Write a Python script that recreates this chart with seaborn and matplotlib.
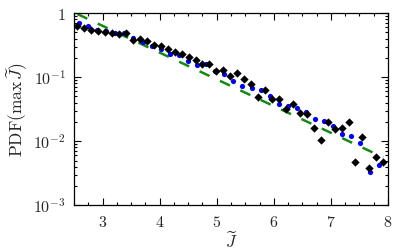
import numpy as np
import pandas as pd
import matplotlib
matplotlib.use("Agg")
import matplotlib.pyplot as plt
import seaborn as sns
from matplotlib.ticker import FixedLocator, FuncFormatter, LogLocator, MultipleLocator

# ---- data ----
black_x = [2.558, 2.680, 2.802, 2.923, 3.045, 3.167, 3.289, 3.411, 3.532, 3.654,
           3.776, 3.898, 4.020, 4.141, 4.263, 4.385, 4.507, 4.629, 4.750, 4.872,
           4.994, 5.116, 5.238, 5.359, 5.481, 5.603, 5.725, 5.847, 5.968, 6.090,
           6.212, 6.334, 6.456, 6.577, 6.699, 6.821, 6.943, 7.065, 7.186, 7.308,
           7.430, 7.552, 7.674, 7.795, 7.917]
black_y = [0.634, 0.577, 0.543, 0.530, 0.511, 0.496, 0.470, 0.482, 0.386, 0.389,
           0.370, 0.317, 0.306, 0.271, 0.244, 0.229, 0.208, 0.185, 0.158, 0.160,
           0.126, 0.129, 0.105, 0.115, 0.0934, 0.0780, 0.0494, 0.0629, 0.0450, 0.0450,
           0.0315, 0.0377, 0.0272, 0.0263, 0.0162, 0.0104, 0.0201, 0.0153, 0.0162, 0.0201,
           0.00479, 0.0115, 0.00378, 0.00573, 0.00479]

blue_x = [2.588, 2.747, 2.906, 3.065, 3.224, 3.383, 3.542, 3.701, 3.860, 4.019,
          4.178, 4.337, 4.496, 4.655, 4.814, 4.973, 5.132, 5.291, 5.450, 5.609,
          5.768, 5.927, 6.086, 6.245, 6.404, 6.563, 6.722, 6.881, 7.040, 7.199,
          7.358, 7.517, 7.676, 7.835]
blue_y = [0.711, 0.634, 0.543, 0.524, 0.496, 0.482, 0.415, 0.353, 0.311, 0.274,
          0.233, 0.221, 0.180, 0.154, 0.160, 0.123, 0.113, 0.0879, 0.0727, 0.0669,
          0.0641, 0.0507, 0.0387, 0.0354, 0.0326, 0.0291, 0.0222, 0.0206, 0.0173, 0.0130,
          0.0120, 0.00947, 0.00334, 0.00425]

green_x = [2.558, 7.917]
green_y = [0.968, 0.0056]

x_ticks = [3, 4, 5, 6, 7, 8]
y_ticks = [1e-3, 1e-2, 1e-1, 1]
y_tick_labels = [r"$10^{-3}$", r"$10^{-2}$", r"$10^{-1}$", r"$1$"]

# ---- style ----
sns.set_style("ticks")
plt.rcParams["mathtext.fontset"] = "cm"
plt.rcParams["font.family"] = ["DejaVu Serif"]

fig = plt.figure(figsize=(4.08, 2.52), dpi=100)
ax = fig.add_axes([0.1814, 0.1853, 0.951 - 0.1814, 0.948 - 0.1853])

df_b = pd.DataFrame({"x": black_x, "y": black_y})
df_u = pd.DataFrame({"x": blue_x, "y": blue_y})
df_g = pd.DataFrame({"x": green_x, "y": green_y})

sns.lineplot(data=df_g, x="x", y="y", ax=ax, color="#138a13", lw=1.8,
             sort=False, zorder=2)
gl = ax.lines[-1]
gl.set_linestyle((0, (4.4, 4.6)))
gl.set_dash_capstyle("butt")
sns.scatterplot(data=df_u, x="x", y="y", ax=ax, color="#0000ff", marker="o",
                s=14, linewidth=0, zorder=3)
sns.scatterplot(data=df_b, x="x", y="y", ax=ax, color="black", marker="D",
                s=18, linewidth=0, zorder=4)

ax.set_yscale("log")
ax.set_xlim(2.5, 8)
ax.set_ylim(1e-3, 1)

ax.xaxis.set_major_locator(FixedLocator(x_ticks))
ax.xaxis.set_minor_locator(MultipleLocator(0.25))
ax.xaxis.set_major_formatter(FuncFormatter(lambda v, p: r"$%d$" % round(v)))
ax.yaxis.set_major_locator(FixedLocator(y_ticks))
ax.yaxis.set_minor_locator(LogLocator(base=10, subs=np.arange(2, 10)))
lab = dict(zip(y_ticks, y_tick_labels))
ax.yaxis.set_major_formatter(FuncFormatter(
    lambda v, p: min(lab.items(), key=lambda kv: abs(np.log10(kv[0]) - np.log10(v)))[1]))
ax.yaxis.set_minor_formatter(FuncFormatter(lambda v, p: ""))

ax.tick_params(which="both", direction="in", top=True, right=True, labelsize=11.5,
               width=0.8, color="black")
ax.tick_params(which="major", length=5, pad=6)
ax.tick_params(which="minor", length=2.5)
for s in ax.spines.values():
    s.set_linewidth(0.9)
    s.set_color("black")

ax.set_xlabel(r"$\widetilde{J}$", fontsize=12, labelpad=1)
ax.set_ylabel(r"$\mathrm{PDF}(\max\,\widetilde{J})$", fontsize=12.5, labelpad=3)

fig.savefig("out.png", dpi=100)
